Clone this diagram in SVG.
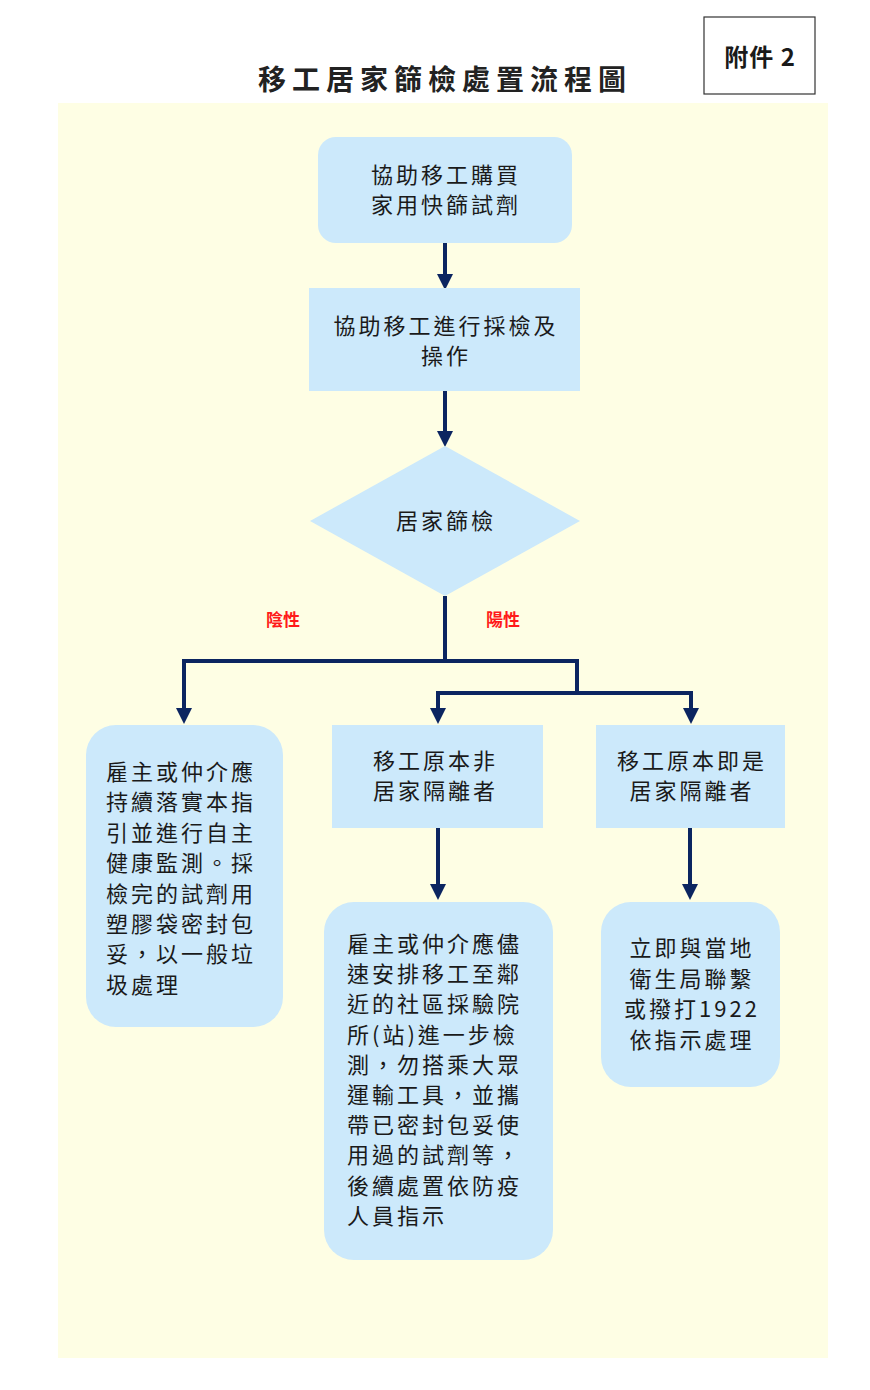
<svg xmlns="http://www.w3.org/2000/svg" width="870" height="1390" viewBox="0 0 870 1390">
<style>
.n{fill:#cce9fb}
.t{font-family:"Noto Sans CJK TC","Noto Sans CJK SC",sans-serif;font-size:22px;letter-spacing:3px;fill:#1a1a1a}
.c{text-anchor:middle}
.e{stroke:#0b2560;stroke-width:4;fill:none}
.r{font-family:"Noto Sans CJK TC",sans-serif;font-size:17px;font-weight:bold;fill:#ff1a1a;text-anchor:middle}
</style>
<rect width="870" height="1390" fill="#fff"/>
<rect x="58" y="103" width="770" height="1255" fill="#fefee4"/>
<text x="445" y="90" class="t c" style="font-size:28px;font-weight:bold;letter-spacing:6px;fill:#222">移工居家篩檢處置流程圖</text>
<g id="attach"><rect x="704" y="17" width="111" height="77" fill="#fff" stroke="#333" stroke-width="1.2"/><text x="760" y="66" class="t c" style="font-size:24px;font-weight:bold;letter-spacing:1px">附件 2</text></g>
<g id="conn">
<path class="e" d="M445,243V276M445,391V433M445,596V661M184,710V661H577V693M438,710V693H691V710M438,828V886M690,828V886"/>
<path d="M176,708h16l-8,16z M430,708h16l-8,16z M683,708h16l-8,16z M430,884h16l-8,16z M682,884h16l-8,16z M437,274h16l-8,16z M437,431h16l-8,16z" fill="#0b2560"/>
</g>
<g id="n1"><rect class="n" x="318" y="137" width="254" height="106" rx="18"/><text class="t c" x="446" y="183">協助移工購買</text><text class="t c" x="446" y="213">家用快篩試劑</text></g>
<g id="n2"><rect class="n" x="309" y="288" width="271" height="103"/><text class="t c" x="446" y="334">協助移工進行採檢及</text><text class="t c" x="446" y="364">操作</text></g>
<g id="n3"><polygon class="n" points="445,446 580,521 445,596 310,521"/><text class="t c" x="446" y="529">居家篩檢</text></g>
<g id="lab"><text class="r" x="283" y="626">陰性</text><text class="r" x="503" y="626">陽性</text></g>
<g id="n4"><rect class="n" x="86" y="725" width="197" height="302" rx="30"/>
<text class="t"><tspan x="106" y="780">雇主或仲介應</tspan><tspan x="106" y="810.4">持續落實本指</tspan><tspan x="106" y="840.8">引並進行自主</tspan><tspan x="106" y="871.2">健康監測。採</tspan><tspan x="106" y="901.6">檢完的試劑用</tspan><tspan x="106" y="932">塑膠袋密封包</tspan><tspan x="106" y="962.4">妥，以一般垃</tspan><tspan x="106" y="992.8">圾處理</tspan></text></g>
<g id="n5"><rect class="n" x="332" y="725" width="211" height="103"/><text class="t" x="373" y="769">移工原本非</text><text class="t" x="373" y="799">居家隔離者</text></g>
<g id="n6"><rect class="n" x="596" y="725" width="189" height="103"/><text class="t c" x="692" y="769">移工原本即是</text><text class="t c" x="692" y="799">居家隔離者</text></g>
<g id="n7"><rect class="n" x="324" y="902" width="229" height="358" rx="30"/>
<text class="t"><tspan x="347" y="952">雇主或仲介應儘</tspan><tspan x="347" y="982.2">速安排移工至鄰</tspan><tspan x="347" y="1012.4">近的社區採驗院</tspan><tspan x="347" y="1042.6">所(站)進一步檢</tspan><tspan x="347" y="1072.8">測，勿搭乘大眾</tspan><tspan x="347" y="1103">運輸工具，並攜</tspan><tspan x="347" y="1133.2">帶已密封包妥使</tspan><tspan x="347" y="1163.4">用過的試劑等，</tspan><tspan x="347" y="1193.6">後續處置依防疫</tspan><tspan x="347" y="1223.8">人員指示</tspan></text></g>
<g id="n8"><rect class="n" x="601" y="902" width="179" height="185" rx="30"/>
<text class="t c"><tspan x="692" y="956">立即與當地</tspan><tspan x="692" y="987">衛生局聯繫</tspan><tspan x="692" y="1017">或撥打1922</tspan><tspan x="692" y="1048">依指示處理</tspan></text></g>
</svg>
